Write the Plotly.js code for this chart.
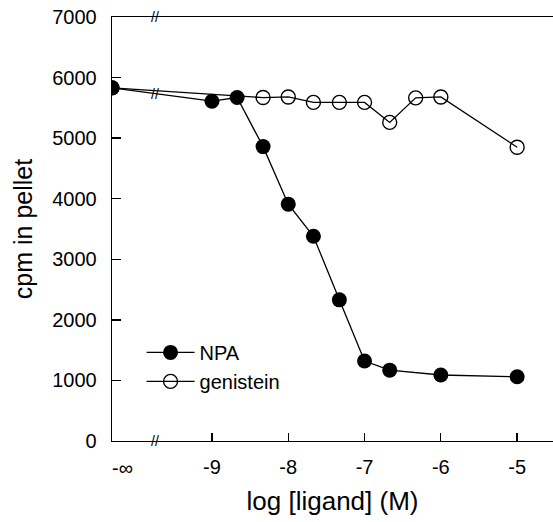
<!DOCTYPE html>
<html>
<head>
<meta charset="utf-8">
<script src="https://cdn.plot.ly/plotly-3.0.1.min.js"></script>
<style>html,body{margin:0;padding:0;background:#fff;}#chart{width:553px;height:522px;}</style>
</head>
<body>
<div id="chart"></div>
<script>
// log [ligand] (M); -Infinity = no ligand (drawn at the left edge, axis is broken)
const npaX = [-Infinity, -9, -8.67, -8.33, -8, -7.67, -7.33, -7, -6.67, -6, -5];
const npaY = [5830, 5610, 5670, 4860, 3910, 3380, 2330, 1320, 1170, 1090, 1060];
const genX = [-Infinity, -8.33, -8, -7.67, -7.33, -7, -6.67, -6.33, -6, -5];
const genY = [5830, 5670, 5680, 5590, 5590, 5590, 5260, 5665, 5680, 4850];
const xTickVals = [-9, -8, -7, -6, -5];
const xTickText = ['-9', '-8', '-7', '-6', '-5'];
const yTickVals = [0, 1000, 2000, 3000, 4000, 5000, 6000, 7000];

const X_MIN = -10.31, X_MAX = -4.53;   // axis range
const INF_POS = X_MIN;                 // where "-∞" samples sit
const INF_LABEL_POS = -10.17;
const BREAK_X = -9.74;

const mapX = a => a.map(v => v === -Infinity ? INF_POS : v);
const FONT = 'Liberation Sans, Arial, Helvetica, sans-serif';

const traces = [
  {
    x: mapX(genX), y: genY, name: 'genistein', type: 'scatter', mode: 'lines+markers',
    line: {color: '#000', width: 1.3},
    marker: {symbol: 'circle-open', size: 14, color: '#000', line: {width: 1.4, color: '#000'}},
    legendrank: 2
  },
  {
    x: mapX(npaX), y: npaY, name: 'NPA', type: 'scatter', mode: 'lines+markers',
    line: {color: '#000', width: 1.3},
    marker: {symbol: 'circle', size: 15, color: '#000'},
    legendrank: 1
  }
];

// y of the -inf → -9 segment at the break position (for the break mark on the line)
const frac = (BREAK_X - INF_POS) / (npaX[1] - INF_POS);
const breakLineY = npaY[0] + frac * (npaY[1] - npaY[0]);

const breakAnn = (x, y, yref) => ({
  x: x, y: y, xref: 'x', yref: yref, xanchor: 'center', yanchor: 'middle',
  text: '//', showarrow: false,
  font: {family: FONT, size: 14, color: '#000'}
});

const layout = {
  width: 553, height: 522,
  margin: {l: 112, r: 0, t: 17, b: 81},
  paper_bgcolor: '#fff', plot_bgcolor: '#fff',
  font: {family: FONT, color: '#000'},
  showlegend: true,
  legend: {
    x: 0.067, y: 0.255, xanchor: 'left', yanchor: 'top',
    bgcolor: 'rgba(0,0,0,0)', borderwidth: 0,
    font: {family: FONT, size: 20, color: '#000'},
    itemwidth: 48, tracegroupgap: 0
  },
  xaxis: {
    range: [X_MIN, X_MAX], tickvals: xTickVals, ticktext: xTickText,
    ticks: 'inside', ticklen: 8, tickwidth: 1.3, tickcolor: '#000',
    showline: true, linecolor: '#000', linewidth: 1.3, mirror: true,
    showgrid: false, zeroline: false,
    tickfont: {family: FONT, size: 20, color: '#000'},
    ticklabelstandoff: 8,
    title: {text: 'log [ligand] (M)', font: {family: FONT, size: 26, color: '#000'}, standoff: 14}
  },
  yaxis: {
    range: [0, 7000], tickvals: yTickVals,
    ticks: 'inside', ticklen: 9, tickwidth: 1.3, tickcolor: '#000',
    showline: true, linecolor: '#000', linewidth: 1.3, mirror: true,
    showgrid: false, zeroline: false,
    tickfont: {family: FONT, size: 20, color: '#000'},
    ticklabelstandoff: 10,
    title: {text: 'cpm in pellet', font: {family: FONT, size: 25, color: '#000'}, standoff: 12}
  },
  annotations: [
    {x: INF_LABEL_POS, y: 0, xref: 'x', yref: 'paper', yanchor: 'top', yshift: -14,
     text: '-∞', showarrow: false, font: {family: FONT, size: 20, color: '#000'}},
    breakAnn(BREAK_X, 1, 'paper'),
    breakAnn(BREAK_X, 0, 'paper'),
    breakAnn(BREAK_X, breakLineY, 'y')
  ]
};

Plotly.newPlot('chart', traces, layout, {displayModeBar: false, staticPlot: true});
</script>
</body>
</html>
